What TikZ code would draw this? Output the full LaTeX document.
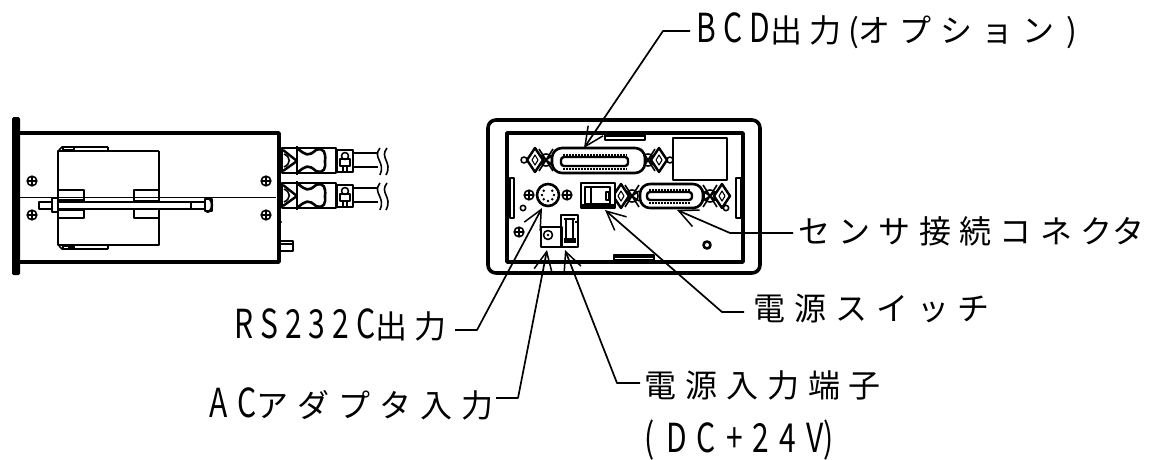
\documentclass[tikz,border=0pt]{standalone}
\usepackage{fontspec}
\setmainfont{Noto Sans CJK JP}
\newfontfamily\cjf{Noto Sans CJK JP}
\newfontfamily\laf[FakeStretch=0.75]{Noto Sans CJK JP}
\usetikzlibrary{arrows.meta}
\newcommand{\cj}[2][28]{{\cjf\fontsize{32}{36}\selectfont\addfontfeature{LetterSpace=#1}#2}}
\newcommand{\la}[2][12]{{\laf\fontsize{40}{44}\selectfont\addfontfeature{LetterSpace=#1}#2}}
\newcommand{\screwmark}[2]{\draw[med] (#1,#2) circle (4.8); \draw[med] (#1-4.8,#2) -- (#1+4.8,#2) (#1,#2-4.8) -- (#1,#2+4.8);}
\newcommand{\diam}[2]{\draw[thick3,fill=white] (#1-8,#2) -- (#1,#2-12) -- (#1+8,#2) -- (#1,#2+12) -- cycle;
 \draw[thin2] (#1-3,#2) -- (#1,#2-5) -- (#1+3,#2) -- (#1,#2+5) -- cycle;}
\newcommand{\hatchblob}[2]{\draw[med] (#1-7,#2-11) -- (#1+7,#2+11) (#1-7,#2+11) -- (#1+7,#2-11) (#1-7,#2-5) -- (#1+7,#2+5) (#1-7,#2+5) -- (#1+7,#2-5); \draw[med] (#1,#2) circle (6);}
\newcommand{\cableconn}[3]{%
 \begin{scope}[shift={(0,#1)}]
 \draw[med] (282,0) rectangle (336,#2);
 \draw[thick3] (297,-2) -- (297,#2+2);
 \draw[thick3] (283,2) -- (297,#3) -- (283,#2-2);
 \draw[med] (284,6) .. controls (291,9) and (291,#2-9) .. (284,#2-6);
 \draw[line width=2.6pt] (298,1) .. controls (306,7) and (308,9) .. (316,2) .. controls (324,-1) and (326,5) .. (325,#3) .. controls (326,#2-5) and (324,#2+1) .. (316,#2-2) .. controls (308,#2-9) and (306,#2-7) .. (298,#2-1);
 \draw[med] (337,2) rectangle (353,#2-1);
 \draw[thick3] (340,11) rectangle (350,18);
 \draw[med] (343,18) -- (343,#2-1) (347,18) -- (347,#2-1) (345,8) circle (3.5);
 \draw[med] (353,5) -- (378,5) (353,19) -- (378,19);
 \draw[med] (380,0) .. controls (372,10) and (386,14) .. (380,27);
 \draw[med] (387,0) .. controls (379,10) and (393,14) .. (386,27);
 \end{scope}}
\tikzset{x=1pt,y=-1pt,
 thin2/.style={line width=1.1pt},
 med/.style={line width=1.6pt},
 thick3/.style={line width=2.4pt},
 body/.style={line width=3.6pt},
 lead/.style={line width=1.7pt,-{Straight Barb[length=19pt,width=18pt,line width=1.5pt]}},
 lbl/.style={inner sep=0pt,anchor=west}}
\begin{document}
\begin{tikzpicture}[line join=round]
\useasboundingbox (0,0) rectangle (1153,460);
% --- side view ---
\fill[rounded corners=1.5pt] (12,117) rectangle (20,275);
\draw[body] (20,133) -- (279,133) -- (279,262) -- (20,262);
\draw[line width=1.3pt] (20,197.5) -- (276,197.5);
\foreach \x/\y in {32/181,266/181,32/215,266/215}{\screwmark{\x}{\y}}
% inner case
\draw[med] (108,147) -- (62,147) -- (59,150);
\draw[med] (108,147) -- (108,151) -- (159,151);
\draw[med] (108,249) -- (62,249) -- (59,246);
\draw[med] (108,249) -- (108,245) -- (159,245);
\draw[thick3] (159,151) -- (159,245) -- (58,245) -- (58,151) -- (108,151);
\draw[thin2] (63,147) rectangle (74,150) (63,246) rectangle (74,249);
\fill (68,246) rectangle (74,249);
\draw[med] (59,190) -- (84,190) -- (84,218) -- (59,218);
\draw[med] (159,190) -- (134,190) -- (134,218) -- (159,218);
\draw[med] (59,197.5) -- (84,197.5);
\draw[med] (134,197.5) -- (159,197.5);
% rod
\draw[med,fill=white] (39,202) -- (205,202) -- (205,209) -- (39,209) -- cycle;
\draw[thin2] (191,202) -- (191,209);
\draw[med,fill=white] (205,199) rectangle (212,211);
\draw[thick3] (206,199) .. controls (208,197) and (212,199) .. (212,205) .. controls (212,211) and (208,213) .. (206,211);
\draw[med,fill=white] (52,198) rectangle (58,212);
\draw[med] (58,200) -- (84,200) (58,210) -- (84,210) (134,201) -- (159,201) (134,209) -- (159,209);
% small protrusion
\draw[med] (280,241) rectangle (293,251);
\draw[thin2] (280,244) -- (293,244);
\fill (281,222) circle (1.2);
% cables
\cableconn{148}{25}{13}
\cableconn{183}{25}{13}
% --- front view ---
\draw[line width=3.6pt,rounded corners=8pt] (488,120) rectangle (760,273);
\draw[body] (507,133) rectangle (743,262);
\draw[med] (605,135) rectangle (645,140);
\fill (605,135) rectangle (645,136.6);
\draw[med] (614,255) rectangle (654,260);
\fill (614,255) rectangle (654,258);
\draw[med] (673,138) rectangle (727,180);
\draw[med] (510,178) rectangle (514,218);
\draw[med] (736,178) rectangle (741,218);
% BCD connector
\hatchblob{546}{160}\hatchblob{648}{160}
\diam{535}{160}\diam{659}{160}
\draw[med] (524,160) circle (3) (670,160) circle (3);
\draw[line width=2.6pt,fill=white,rounded corners=10pt] (552,148) rectangle (645,173);
\draw[thick3,rounded corners=3pt] (561,157) rectangle (628,166);
\draw[densely dotted,line width=2pt] (563,154.5) -- (627,154.5) (563,168.5) -- (627,168.5);
% sensor connector
\hatchblob{632}{196}\hatchblob{710}{196}
\diam{621}{196}\diam{722}{196}
\draw[line width=2.6pt,fill=white,rounded corners=10pt] (640,184) rectangle (703,208);
\draw[thick3,rounded corners=3pt] (647,192) rectangle (692,200);
\draw[densely dotted,line width=2pt] (649,189.5) -- (690,189.5) (649,202.5) -- (690,202.5);
% DIN
\draw[line width=2.6pt] (548,195) circle (11);
\foreach \a in {0,45,135,180,225,315,270}{\fill (548,195) ++(\a:-6) circle (1.4);}
\screwmark{529}{195}\screwmark{567}{195}
\draw[med] (523,208) circle (2.7) (726,208) circle (2.7);
\screwmark{519}{232}
% switch
\draw[thick3,fill=white] (581,183) rectangle (615,208);
\fill (581,204) rectangle (615,208);
\draw[med] (585,187) rectangle (610,204);
\draw[thick3] (591,187) -- (591,204);
\draw[med] (606,192) rectangle (609,200);
% AC jack, power terminal
\draw[med] (541,227) rectangle (562,247);
\draw[med] (548,235) circle (4.5);
\fill (548,235) circle (1.4);
\draw[med] (561,215) rectangle (578,247);
\draw[thin2] (564,219) -- (575,219);
\draw[med] (566,219) -- (566,241) (573,219) -- (573,241);
\fill (564,238) rectangle (576,243);
\draw[thin2] (575,222) -- (577,222);
% nut
\draw[line width=2.6pt] (707,245) circle (3.5);
% --- labels ---
\node[lbl] (bcd) at (696,31) {\la[18]{BCD}\cj[22]{出力}\hspace{7pt}\cj[20]{(}\cj{オプション}\hspace{12pt}\cj[0]{)}};
\node[lbl] (sen) at (798,231) {\cj[26]{センサ接続コネク}\cj[0]{タ}};
\node[lbl] (sw) at (753,308) {\cj{電源スイッチ}};
\node[lbl] (rs) at (234,325) {\la[18]{RS232C}\cj[22]{出力}};
\node[lbl] (ac) at (209,404) {\la[25]{AC}\cj{アダプタ入力}};
\node[lbl] (pw) at (644,385) {\cj{電源入力端子}};
\node[lbl] (dc) at (644,440) {\la[0]{(}\hspace{12pt}\la[25]{DC+24V}\la[0]{)}};
% --- connectors ---
\coordinate (bcdt) at (584,148);
\coordinate (sent) at (677,210);
\coordinate (swt) at (605,210);
\coordinate (rst) at (542,208);
\coordinate (act) at (547,250);
\coordinate (pwt) at (565,250);
\coordinate (bcde) at (690,31);
\coordinate (sene) at (793,233);
\coordinate (swe) at (744,312);
\coordinate (rse) at (455,330);
\coordinate (ace) at (496,398);
\coordinate (pwe) at (640,383);
\draw[lead] (bcde) -- (663,31) -- (bcdt);
\draw[lead] (sene) -- (730,233) -- (sent);
\draw[lead] (swe) -- (722,312) -- (swt);
\draw[lead] (rse) -- (477,330) -- (rst);
\draw[lead] (ace) -- (518,398) -- (act);
\draw[lead] (pwe) -- (617,383) -- (pwt);
\end{tikzpicture}
\end{document}
